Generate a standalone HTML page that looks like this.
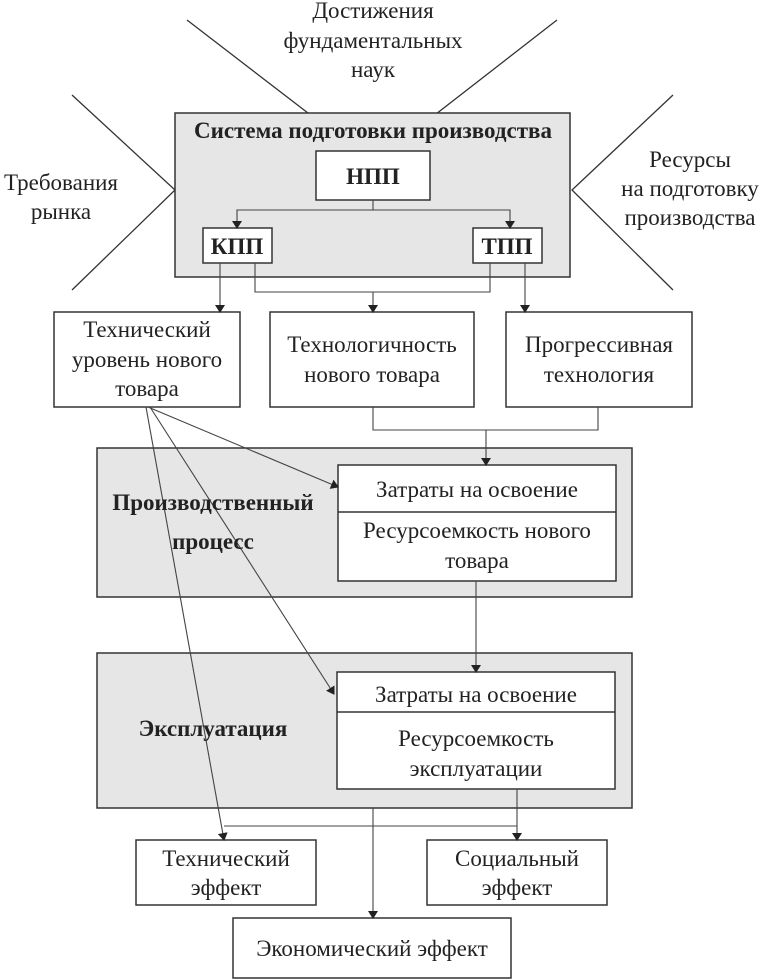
<!DOCTYPE html>
<html><head><meta charset="utf-8"><style>
html,body{margin:0;padding:0;background:#fff;}
svg{display:block;}
text{font-family:"Liberation Serif","DejaVu Serif",serif;font-size:23px;fill:#222;text-anchor:middle;}
.b{font-weight:bold;}
</style></head><body>
<svg width="762" height="980" viewBox="0 0 762 980" xmlns="http://www.w3.org/2000/svg">
<defs><marker id="a" markerWidth="8" markerHeight="10" refX="7" refY="5" orient="auto" markerUnits="userSpaceOnUse"><path d="M0,0 L8,5 L0,10 Z" fill="#222"/></marker></defs>
<g stroke="#333" stroke-width="1.3" fill="none">
<polyline points="187,20 373,163 557,20"/>
<polyline points="72,95 175,190 72,290"/>
<polyline points="673,95 572,190 673,290"/>
</g>
<text x="373" y="18">Достижения</text>
<text x="373" y="48">фундаментальных</text>
<text x="373" y="77">наук</text>
<text x="61" y="190">Требования</text>
<text x="61" y="219">рынка</text>
<text x="690" y="167">Ресурсы</text>
<text x="690" y="196">на подготовку</text>
<text x="690" y="225">производства</text>
<g stroke="#333" stroke-width="1.5">
<rect x="175" y="113" width="395" height="164" fill="#e6e6e6"/>
<rect x="316" y="151" width="114" height="49" fill="#fff"/>
<rect x="203" y="228" width="69" height="35" fill="#fff"/>
<rect x="473" y="228" width="69" height="35" fill="#fff"/>
<rect x="54" y="312" width="186" height="95" fill="#fff"/>
<rect x="270" y="312" width="204" height="95" fill="#fff"/>
<rect x="506" y="312" width="186" height="95" fill="#fff"/>
<rect x="97" y="448" width="535" height="149" fill="#e6e6e6"/>
<rect x="338" y="465" width="278" height="116" fill="#fff"/>
<line x1="338" y1="512" x2="616" y2="512"/>
<rect x="97" y="653" width="535" height="155" fill="#e6e6e6"/>
<rect x="337" y="672" width="278" height="117" fill="#fff"/>
<line x1="337" y1="712" x2="615" y2="712"/>
<rect x="136" y="840" width="180" height="65" fill="#fff"/>
<rect x="427" y="840" width="180" height="65" fill="#fff"/>
<rect x="233" y="918" width="278" height="60" fill="#fff"/>
</g>
<g stroke="#444" stroke-width="1.1" fill="none">
<polyline points="373,200 373,210 237,210 237,228" marker-end="url(#a)"/>
<polyline points="373,210 510,210 510,228" marker-end="url(#a)"/>
<line x1="220" y1="263" x2="220" y2="312" marker-end="url(#a)"/>
<polyline points="255,263 255,292 490,292 490,263"/>
<line x1="373" y1="292" x2="373" y2="312" marker-end="url(#a)"/>
<line x1="525" y1="263" x2="525" y2="312" marker-end="url(#a)"/>
<polyline points="373,407 373,430 598,430 598,407"/>
<line x1="486" y1="430" x2="486" y2="465" marker-end="url(#a)"/>
<line x1="476" y1="581" x2="476" y2="672" marker-end="url(#a)"/>
<line x1="148" y1="407" x2="338" y2="487" marker-end="url(#a)"/>
<line x1="150" y1="407" x2="334" y2="694" marker-end="url(#a)"/>
<line x1="146" y1="407" x2="224" y2="840" marker-end="url(#a)"/>
<line x1="373" y1="808" x2="373" y2="918" marker-end="url(#a)"/>
<polyline points="224,826 517,826"/>
<line x1="517" y1="789" x2="517" y2="840" marker-end="url(#a)"/>
</g>
<text class="b" x="373" y="138">Система подготовки производства</text>
<text class="b" x="373" y="184">НПП</text>
<text class="b" x="237" y="254">КПП</text>
<text class="b" x="507" y="254">ТПП</text>
<text x="147" y="337">Технический</text>
<text x="147" y="367">уровень нового</text>
<text x="147" y="396">товара</text>
<text x="372" y="352">Технологичность</text>
<text x="372" y="382">нового товара</text>
<text x="599" y="352">Прогрессивная</text>
<text x="599" y="382">технология</text>
<text x="477" y="497">Затраты на освоение</text>
<text x="477" y="538">Ресурсоемкость нового</text>
<text x="477" y="568">товара</text>
<text class="b" x="213" y="510">Производственный</text>
<text class="b" x="213" y="549">процесс</text>
<text x="476" y="702">Затраты на освоение</text>
<text x="476" y="746">Ресурсоемкость</text>
<text x="476" y="776">эксплуатации</text>
<text class="b" x="213" y="736">Эксплуатация</text>
<text x="226" y="866">Технический</text>
<text x="226" y="895">эффект</text>
<text x="517" y="866">Социальный</text>
<text x="517" y="895">эффект</text>
<text x="372" y="956">Экономический эффект</text>
</svg>
</body></html>
